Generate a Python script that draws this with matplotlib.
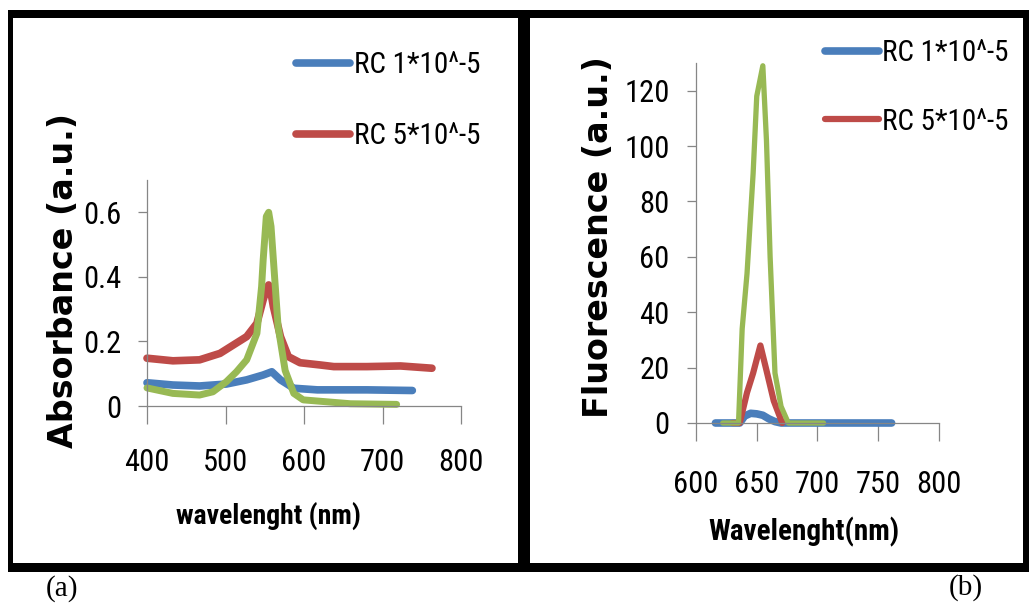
import matplotlib
matplotlib.use("Agg")
import matplotlib.pyplot as plt
from matplotlib import font_manager
from matplotlib.patches import Rectangle

W, H = 1029, 607

# panel (a): absorbance spectra
abs_blue_nm = [400, 433, 467, 501, 527, 548, 559, 570, 587, 617, 680, 738]
abs_blue = [0.072, 0.065, 0.062, 0.068, 0.081, 0.096, 0.106, 0.081, 0.055, 0.050, 0.050, 0.048]
abs_red_nm = [400, 433, 467, 493, 510, 527, 540, 548, 552, 555, 558, 561, 570, 580, 595, 621, 638,
              680, 723, 763]
abs_red = [0.148, 0.140, 0.143, 0.163, 0.189, 0.215, 0.256, 0.329, 0.36, 0.375, 0.35, 0.308, 0.215,
           0.153, 0.134, 0.127, 0.122, 0.122, 0.124, 0.117]
abs_green_nm = [400, 433, 467, 484, 501, 514, 527, 540, 546, 548, 552, 555, 558, 561, 567, 576, 587,
                599, 629, 659, 718]
abs_green = [0.056, 0.039, 0.034, 0.044, 0.075, 0.106, 0.143, 0.225, 0.37, 0.453, 0.587, 0.60, 0.556,
             0.453, 0.246, 0.110, 0.039, 0.019, 0.013, 0.007, 0.005]

# panel (b): fluorescence spectra
fl_blue_nm = [616, 636, 640, 645, 650, 655, 660, 665, 670, 761]
fl_blue = [0, 0, 2.5, 3.5, 3.3, 2.8, 1.5, 0.5, 0, 0]
fl_red_nm = [630, 636, 642, 647, 653, 658, 664, 671]
fl_red = [0, 0, 11, 18, 28, 19, 8, 0]
fl_green_nm = [622, 635, 638, 642, 647, 650, 655, 658, 661, 665, 670, 676, 705]
fl_green = [0, 0, 34, 54, 90, 118, 129, 102, 60, 18, 6, 0, 0]

labels = ["RC 1*10^-5", "RC 5*10^-5"]
colors = ["#4A7EBB", "#BE4B48", "#98B954"]

abs_xticks = [400, 500, 600, 700, 800]
abs_yticks = [0, 0.2, 0.4, 0.6]
abs_yticklabels = ["0", "0.2", "0.4", "0.6"]
fl_xticks = [600, 650, 700, 750, 800]
fl_yticks = [0, 20, 40, 60, 80, 100, 120]

available = {f.name for f in font_manager.fontManager.ttflist}
narrow = next((f for f in ["Liberation Sans Narrow", "Roboto Condensed", "Roboto"] if f in available),
              "DejaVu Sans")
plt.rcParams["font.family"] = [narrow, "DejaVu Sans"]

fig = plt.figure(figsize=(W / 100, H / 100), dpi=100)
fig.patch.set_facecolor("white")


def box(x0, y0, x1, y1):
    fig.add_artist(Rectangle((x0 / W, 1 - y1 / H), (x1 - x0) / W, (y1 - y0) / H,
                             transform=fig.transFigure, color="black", lw=0))


def axes_px(x0, x1, y0, y1):
    return fig.add_axes([x0 / W, 1 - y0 / H, (x1 - x0) / W, (y0 - y1) / H])


def style(ax, xpad, ypad):
    for s in ["top", "right"]:
        ax.spines[s].set_visible(False)
    for s in ["left", "bottom"]:
        ax.spines[s].set_color("#868686")
        ax.spines[s].set_linewidth(0.9)
    ax.tick_params(axis="x", length=13, width=0.9, color="#868686", pad=xpad, labelsize=22)
    ax.tick_params(axis="y", length=6.5, width=0.9, color="#868686", pad=ypad, labelsize=22)
    ax.set_facecolor("none")


line_kw = dict(solid_capstyle="round", solid_joinstyle="round", clip_on=False)

# frames
box(8, 10, 524, 18)
box(8, 10, 13, 572)
box(8, 563, 524, 572)
box(518, 10, 530, 572)
box(524, 10, 1029, 18)
box(524, 563, 1029, 572)
box(1023, 10, 1029, 572)

# ---- panel (a)
ax1 = axes_px(147, 461, 406, 180)
l1 = ax1.plot(abs_blue_nm, abs_blue, color=colors[0], lw=5.5, **line_kw)[0]
l2 = ax1.plot(abs_red_nm, abs_red, color=colors[1], lw=5.5, **line_kw)[0]
ax1.plot(abs_green_nm, abs_green, color=colors[2], lw=5, **line_kw)
ax1.set_xlim(400, 800)
ax1.set_ylim(0, 0.7)
ax1.set_xticks(abs_xticks)
ax1.set_yticks(abs_yticks, abs_yticklabels)
style(ax1, 17.5, 12)
ax1.set_xlabel("wavelenght (nm)", fontsize=20, fontweight="bold", va="center")
ax1.xaxis.set_label_coords(269 / W, 1 - 516 / H, transform=fig.transFigure)
ax1.set_ylabel("Absorbance (a.u.)", fontsize=24, fontweight="bold", family="DejaVu Sans", va="center")
ax1.yaxis.set_label_coords(64 / W, 1 - 280 / H, transform=fig.transFigure)
fig.legend([l1, l2], labels, loc="upper left", bbox_to_anchor=(296 / W, 1 - 51 / H),
           frameon=False, fontsize=21, handlelength=1.85, handletextpad=0.15,
           labelspacing=1.49, borderpad=0, borderaxespad=0)

# ---- panel (b)
ax2 = axes_px(696, 939, 423, 63)
m1 = ax2.plot(fl_blue_nm, fl_blue, color=colors[0], lw=5.5, **line_kw)[0]
m2 = ax2.plot(fl_red_nm, fl_red, color=colors[1], lw=4.5, **line_kw)[0]
ax2.plot(fl_green_nm, fl_green, color=colors[2], lw=3.8, **line_kw)
ax2.set_xlim(600, 800)
ax2.set_ylim(0, 130)
ax2.set_xticks(fl_xticks)
ax2.set_yticks(fl_yticks)
style(ax2, 20.5, 12.5)
ax2.set_xlabel("Wavelenght(nm)", fontsize=21, fontweight="bold", va="center")
ax2.xaxis.set_label_coords(804 / W, 1 - 532 / H, transform=fig.transFigure)
ax2.set_ylabel("Fluorescence (a.u.)", fontsize=24, fontweight="bold", family="DejaVu Sans", va="center")
ax2.yaxis.set_label_coords(598 / W, 1 - 237 / H, transform=fig.transFigure)
fig.legend([m1, m2], labels, loc="upper left", bbox_to_anchor=(825 / W, 1 - 39 / H),
           frameon=False, fontsize=21, handlelength=1.85, handletextpad=0.1,
           labelspacing=1.39, borderpad=0, borderaxespad=0)

fig.text(62 / W, 1 - 589 / H, "(a)", fontsize=21, family=["Liberation Serif", "DejaVu Serif"],
         ha="center", va="center")
fig.text(966 / W, 1 - 588 / H, "(b)", fontsize=21, family=["Liberation Serif", "DejaVu Serif"],
         ha="center", va="center")

fig.savefig("out.png", dpi=100)
